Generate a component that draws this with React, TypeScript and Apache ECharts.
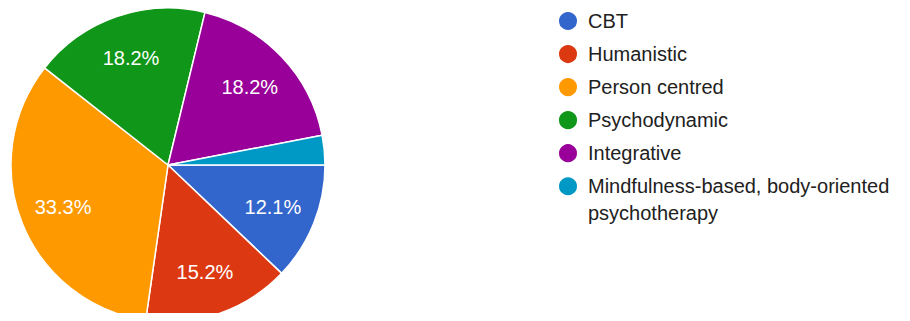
import React, { useEffect, useRef } from "react";
import * as echarts from "echarts";

const categories = [
  "CBT",
  "Humanistic",
  "Person centred",
  "Psychodynamic",
  "Integrative",
  "Mindfulness-based, body-oriented psychotherapy",
];
const counts = [4, 5, 11, 6, 6, 1];
const colors = ["#3366cc", "#dc3912", "#ff9900", "#109618", "#990099", "#0099c6"];
const legendFirstLine = "Mindfulness-based, body-oriented";
const legendSecondLine = "psychotherapy";

const FONT = "Arial, 'Liberation Sans', Helvetica, sans-serif";

export default function App() {
  const ref = useRef<HTMLDivElement>(null);
  useEffect(() => {
    if (!ref.current) return;
    const chart = echarts.init(ref.current, undefined, { renderer: "svg" });
    const total = counts.reduce((a, b) => a + b, 0);
    const data = categories.map((name, i) => ({
      name,
      value: counts[i],
      itemStyle: { color: colors[i] },
    }));
    const labelData = categories.map((name, i) => ({
      name,
      value: counts[i],
      label: { show: counts[i] / total > 0.05 },
    }));
    chart.setOption({
      animation: false,
      legend: {
        orient: "vertical",
        left: 549,
        top: 2,
        padding: 0,
        icon: "circle",
        itemWidth: 30,
        itemHeight: 20,
        itemGap: 11.05,
        selectedMode: false,
        data: categories,
        formatter: (name: string) =>
          name.startsWith(legendFirstLine) ? legendFirstLine : name,
        textStyle: {
          fontFamily: FONT,
          fontSize: 20,
          lineHeight: 20,
          color: "#212121",
        },
      },
      graphic: [
        {
          type: "text",
          left: 580,
          top: 195,
          style: {
            text: legendSecondLine,
            fontFamily: FONT,
            fontSize: 20,
            fill: "#212121",
          },
        },
      ],
      series: [
        {
          type: "pie",
          center: [160, 157],
          radius: [0, 157],
          startAngle: 0,
          clockwise: true,
          silent: true,
          label: { show: false },
          labelLine: { show: false },
          itemStyle: { borderColor: "#ffffff", borderWidth: 1.5 },
          data,
        },
        {
          type: "pie",
          center: [160, 157],
          radius: [63, 157],
          startAngle: 0,
          clockwise: true,
          silent: true,
          percentPrecision: 1,
          itemStyle: { color: "rgba(0,0,0,0)" },
          label: {
            position: "inside",
            formatter: "{d}%",
            color: "#ffffff",
            fontFamily: FONT,
            fontSize: 20,
          },
          labelLine: { show: false },
          data: labelData,
        },
      ],
    });
    return () => chart.dispose();
  }, []);
  return <div ref={ref} style={{ width: 894, height: 305 }} />;
}
